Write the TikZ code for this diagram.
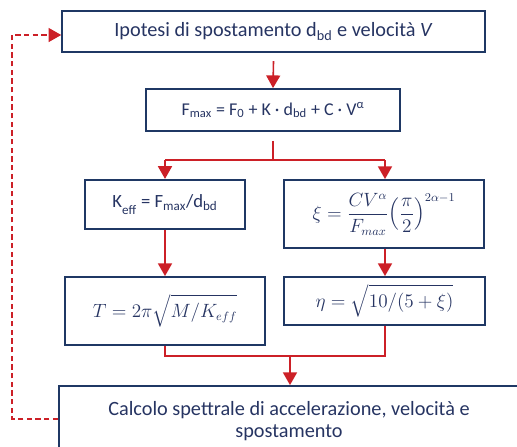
\documentclass[tikz,border=0pt]{standalone}
\usepackage{amsmath,amssymb}
\usepackage{fontspec}
\setmainfont{Carlito}
\usepackage{xcolor}
\usetikzlibrary{arrows.meta,positioning,calc}
\definecolor{navy}{RGB}{31,56,100}
\definecolor{txtcol}{RGB}{38,52,98}
\definecolor{redarr}{RGB}{204,32,39}
\tikzset{
  box/.style ={rectangle,draw=navy,line width=1.4pt,text=txtcol,align=center,inner sep=0pt,font=\fontsize{13.5}{16}\selectfont},
  big/.style ={font=\fontsize{15.2}{16.5}\selectfont},
  ar/.style  ={redarr,line width=1.2pt,-{Triangle[length=9.5pt,width=10.5pt]}},
  ln/.style  ={redarr,line width=1.2pt},
  back/.style={redarr,line width=1pt,dash pattern=on 4pt off 2.5pt,-{Triangle[length=9.5pt,width=10.5pt]}},
}
\begin{document}
\begin{tikzpicture}[x=0.75pt,y=-0.75pt]
  \useasboundingbox (0,0) rectangle (517,446);
  \clip (0,0) rectangle (517,446);
  \node[box,big,minimum width=317pt,minimum height=31pt] (ipot) at (273.5,31.5)
    {Ipotesi di spostamento d\textsubscript{bd} e velocità \textit{V}};
  \node[box,minimum width=190pt,minimum height=31.5pt] (fmax) at (273,110)
    {F\textsubscript{max} = F\textsubscript{0} + K · d\textsubscript{bd} + C · V\textsuperscript{α}};
  \node[box,font=\fontsize{14}{16}\selectfont,minimum width=120pt,minimum height=37pt] (keff) at (165,204.5)
    {K\raisebox{-0.5ex}{\textsubscript{eff}} = F\textsubscript{max}/d\textsubscript{bd}};
  \node[box,minimum width=150pt,minimum height=51pt] (xi) at (384,214)
    {$\displaystyle \xi=\frac{CV^{\alpha}}{F_{max}}\Big(\frac{\pi}{2}\Big)^{2\alpha-1}$};
  \node[box,minimum width=150pt,minimum height=51pt] (per) at (165,311)
    {$\displaystyle T=2\pi\sqrt{M/K_{eff}}$};
  \node[box,minimum width=151pt,minimum height=36pt] (eta) at (384.5,301)
    {$\displaystyle \eta=\sqrt{10/(5+\xi)}$};
  \node[box,big,minimum width=345pt,minimum height=52.5pt] (spet) at (289,421)
    {Calcolo spettrale di accelerazione, velocità e\\ spostamento};
  % connettori
  \coordinate (s1) at ($(ipot.south)+(0,8)$);
  \coordinate (s2) at ($(fmax.south)+(0,9)$);
  \coordinate (hl) at (165,160); \coordinate (hr) at (385,160);
  \coordinate (bl) at (165,356); \coordinate (br) at (385,356);
  \coordinate (bm) at (290,356);
  \draw[ar] (s1) -- (fmax.north);
  \draw[ln] (s2) -- (273,160);
  \draw[ln] (hl) -- (hr);
  \draw[ar] (hl) -- (keff.north);
  \draw[ar] (hr) -- (xi.north-|hr);
  \draw[ar] (keff.south) -- (per.north);
  \draw[ar] (xi.south-|hr) -- (eta.north-|hr);
  \draw[ln] (per.south) -- (bl) -- (br) -- (eta.south-|br);
  \draw[ar] (bm) -- (spet.north-|bm);
  % ritorno
  \draw[back] (spet.west|-0,419) -- (12,419) -- (12,35) -- (ipot.west|-0,35);
\end{tikzpicture}
\end{document}
